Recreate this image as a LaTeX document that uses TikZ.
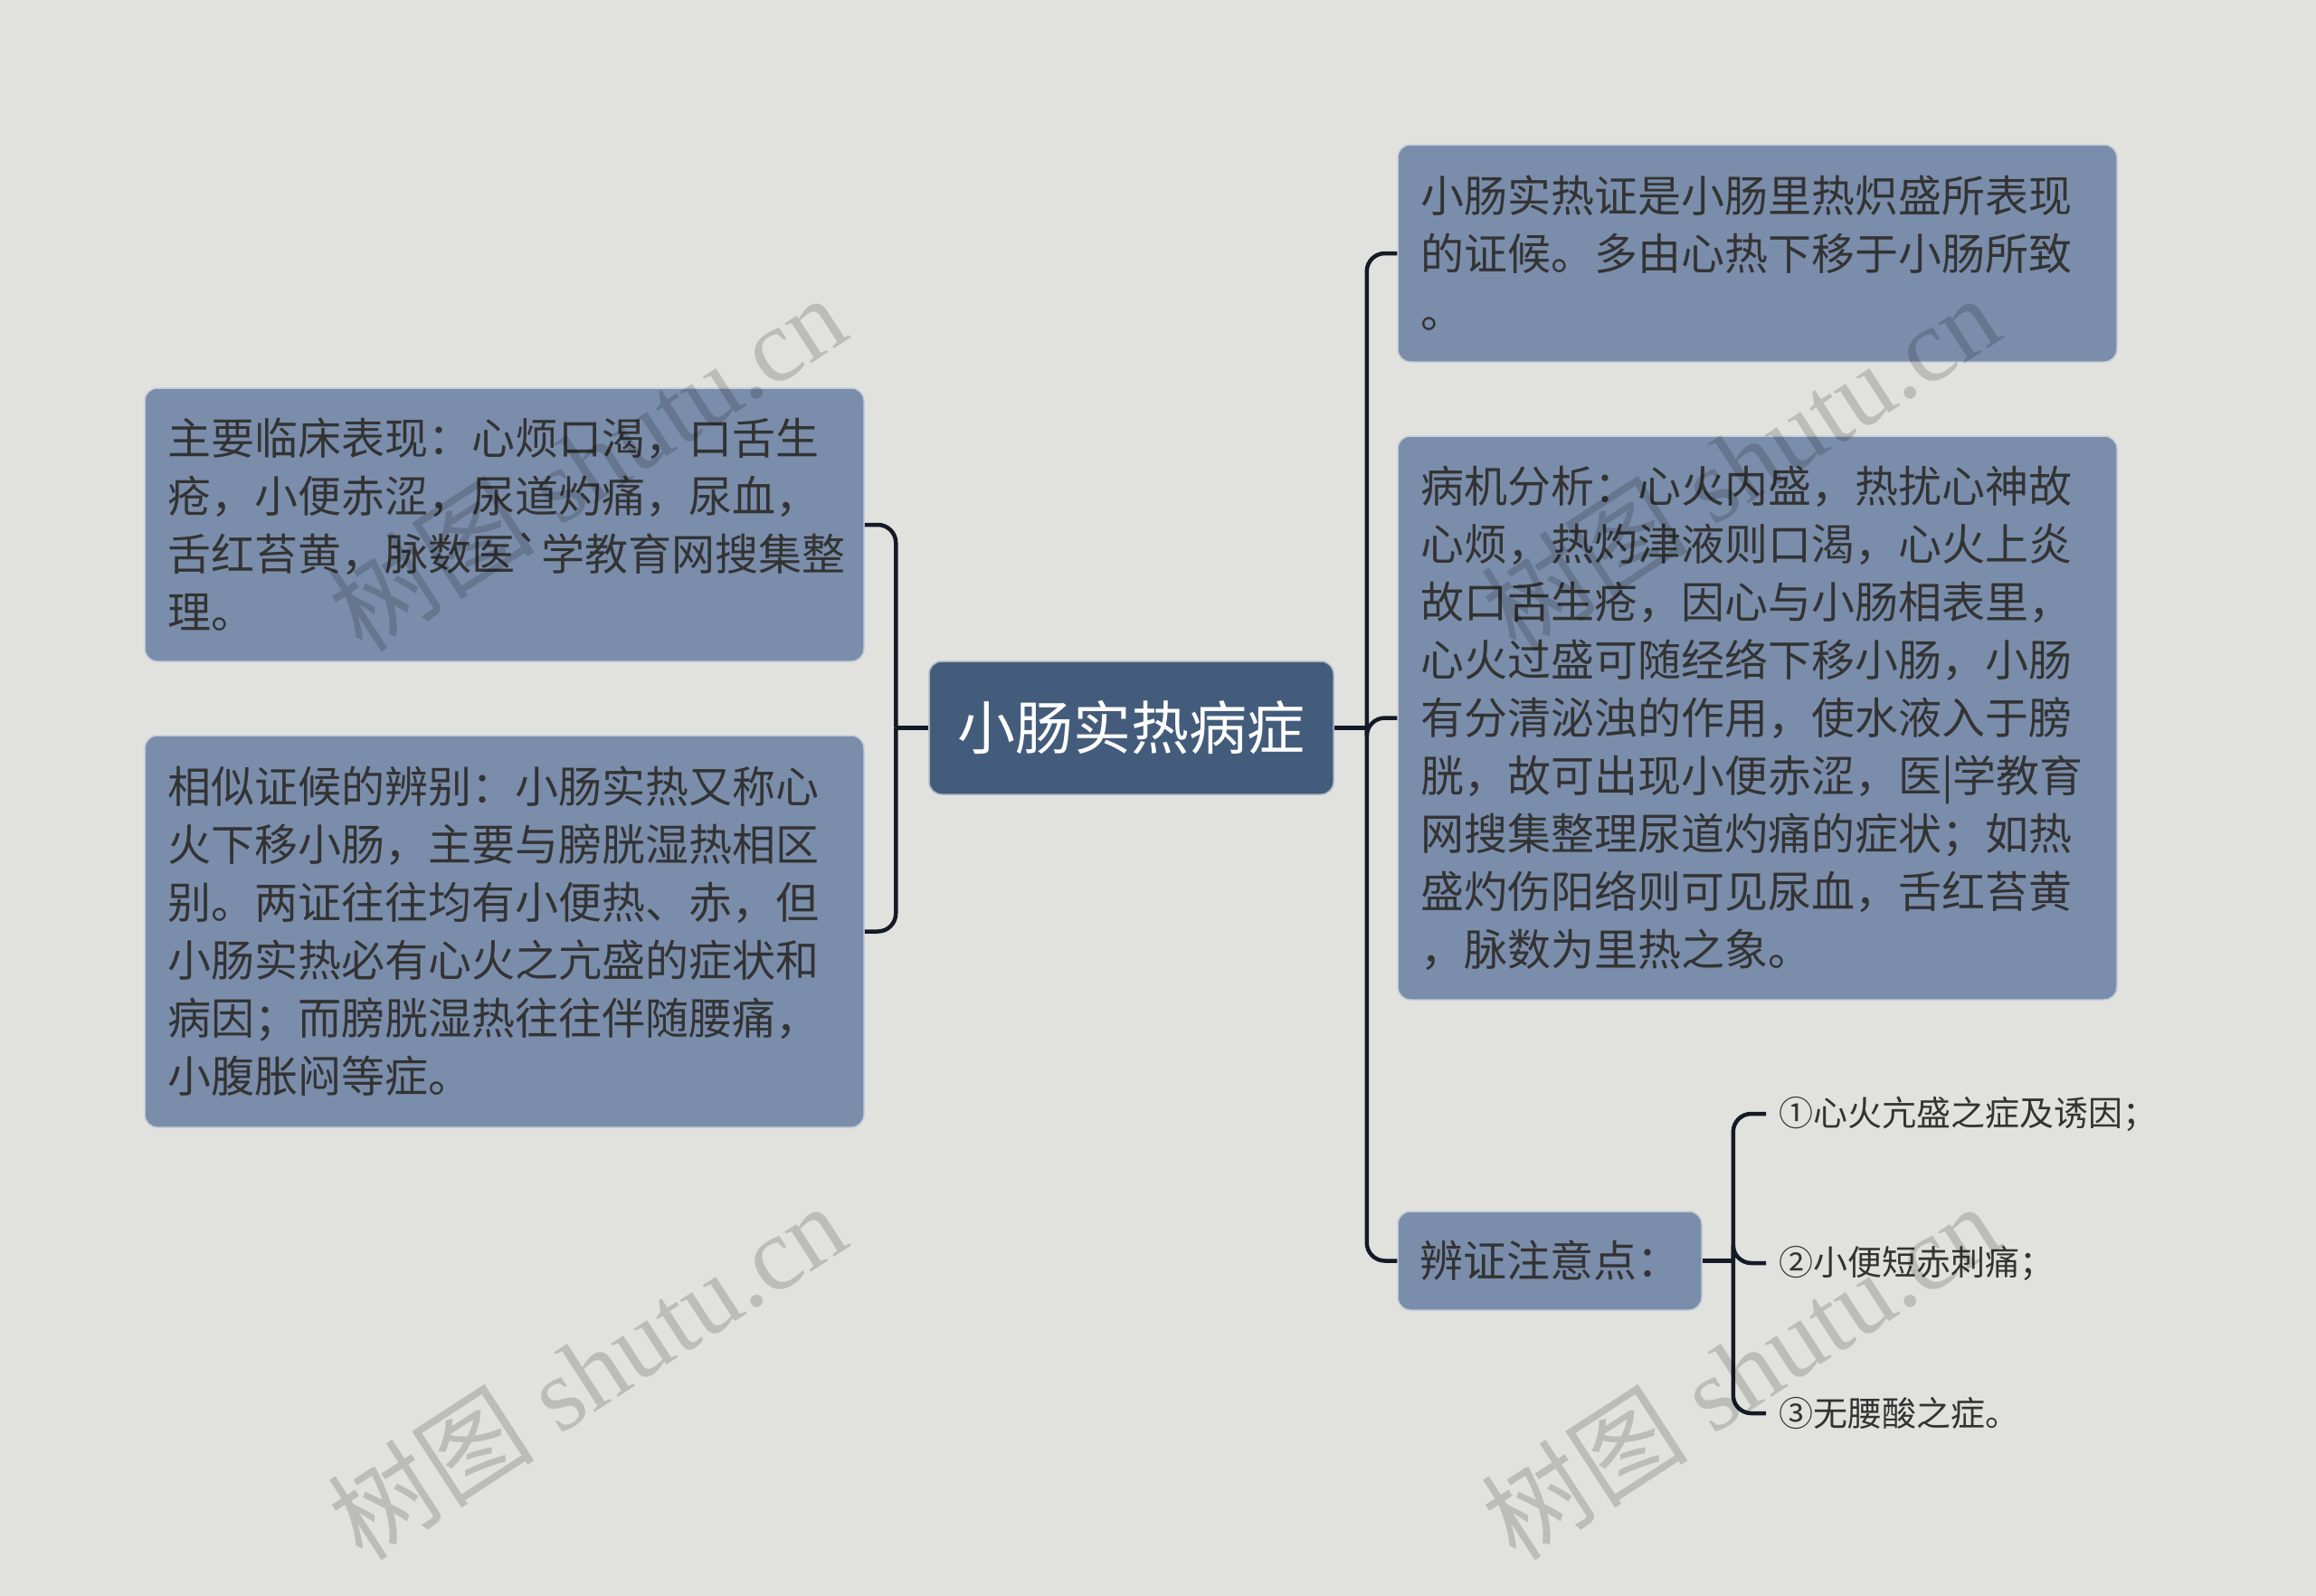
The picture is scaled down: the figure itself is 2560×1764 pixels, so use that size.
\documentclass[tikz,border=0pt]{standalone}
\usepackage{fontspec}
\setmainfont{Noto Sans CJK SC}
\newfontfamily\cjk{Noto Sans CJK SC}
\newfontfamily\wmlatin{Liberation Serif}
\definecolor{bgc}{HTML}{E1E2DD}
\definecolor{boxc}{HTML}{7A8DAB}
\definecolor{rootc}{HTML}{445C7B}
\definecolor{linec}{HTML}{141B26}
\definecolor{txtc}{HTML}{333333}
\begin{document}
\begin{tikzpicture}[x=1pt, y=-1pt,
    topic/.style={rounded corners=14pt, fill=boxc, draw=white!55!boxc, line width=1.5pt,
      text=txtc, font=\fontsize{48}{64}\selectfont, align=left,
      inner xsep=25pt, inner ysep=0pt, text width=745pt},
    central/.style={rounded corners=14pt, fill=rootc, draw=white!55!rootc, line width=1.5pt,
      text=white, font=\fontsize{64}{64}\selectfont,
      minimum width=447pt, minimum height=147pt},
    leaf/.style={text=txtc, font=\fontsize{38}{44}\selectfont, inner xsep=14pt, inner ysep=0pt},
    link/.style={draw=linec, line width=4.5pt, rounded corners=20pt},
    wmark/.style={text=black, text opacity=0.16, rotate=33, inner sep=0pt,
      font=\wmlatin\fontsize{115}{115}\selectfont}]
  \useasboundingbox[fill=bgc] (0,0) rectangle (2560,1764);

  % centre
  \node[central] (root) at (1250.5,804.5) {小肠实热病症};

  % left side
  \node[topic, minimum height=302pt] (sign) at (557.5,580) {主要临床表现：心烦口渴，口舌生\\疮，小便赤涩，尿道灼痛，尿血，\\舌红苔黄，脉数医{\cjk\symbol{"60}}学教育网搜集整\\理。};
  \node[topic, minimum height=433pt] (diff) at (557.5,1029.5) {相似证候的辨别：小肠实热又称心\\火下移小肠，主要与膀胱湿热相区\\别。两证往往均有小便热、赤，但\\小肠实热必有心火之亢盛的症状和\\病因；而膀胱湿热往往伴随腰痛，\\小腹胀闷等症。};

  % right side
  \node[topic, minimum height=240pt] (defn) at (1942.5,280) {小肠实热证是小肠里热炽盛所表现\\的证候。多由心热下移于小肠所致\\。};
  \node[topic, minimum height=623pt] (cause) at (1942.5,793.5) {病机分析：心火内盛，热扰心神故\\心烦，热灼津液则口渴，心火上炎\\故口舌生疮，因心与小肠相表里，\\心火过盛可随经络下移小肠，小肠\\有分清泌浊的作用，使水液入于膀\\胱，故可出现小便赤涩，医|学教育\\网搜集整理尿道灼痛的症状；如热\\盛灼伤阳络则可见尿血，舌红苔黄\\，脉数为里热之象。};
  \node[topic, text width=, align=center, inner xsep=0pt, minimum width=336pt, minimum height=109pt] (notes) at (1713,1393.5) {辨证注意点：};

  % leaves of notes
  \node[leaf, anchor=west] (pt1) at (1952,1231) {①心火亢盛之症及诱因；};
  \node[leaf, anchor=west] (pt2) at (1952,1396) {②小便短赤刺痛；};
  \node[leaf, anchor=west] (pt3) at (1952,1562) {③无腰酸之症。};

  % connectors
  \coordinate (lj) at ([xshift=-36pt]root.west);
  \coordinate (rj) at ([xshift=36pt]root.east);
  \coordinate (nj) at ([xshift=34pt]notes.east);
  \draw[link] (root.west) -- (lj);
  \draw[link] (lj) |- (sign.east);
  \draw[link] (lj) |- (diff.east);
  \draw[link] (root.east) -- (rj);
  \draw[link] (rj) |- (defn.west);
  \draw[link] (rj) |- (cause.west);
  \draw[link] (rj) |- (notes.west);
  \draw[link] (notes.east) -- (nj);
  \draw[link] (nj) |- (pt1.west);
  \draw[link] (nj) |- (pt2.west);
  \draw[link] (nj) |- (pt3.west);

  % watermarks
  \foreach \x/\y [count=\i] in {648/511, 1923/511, 648/1515, 1923/1515}
    \node[wmark] (wm\i) at (\x,\y) {{\cjk 树图} shutu.cn};
\end{tikzpicture}
\end{document}
